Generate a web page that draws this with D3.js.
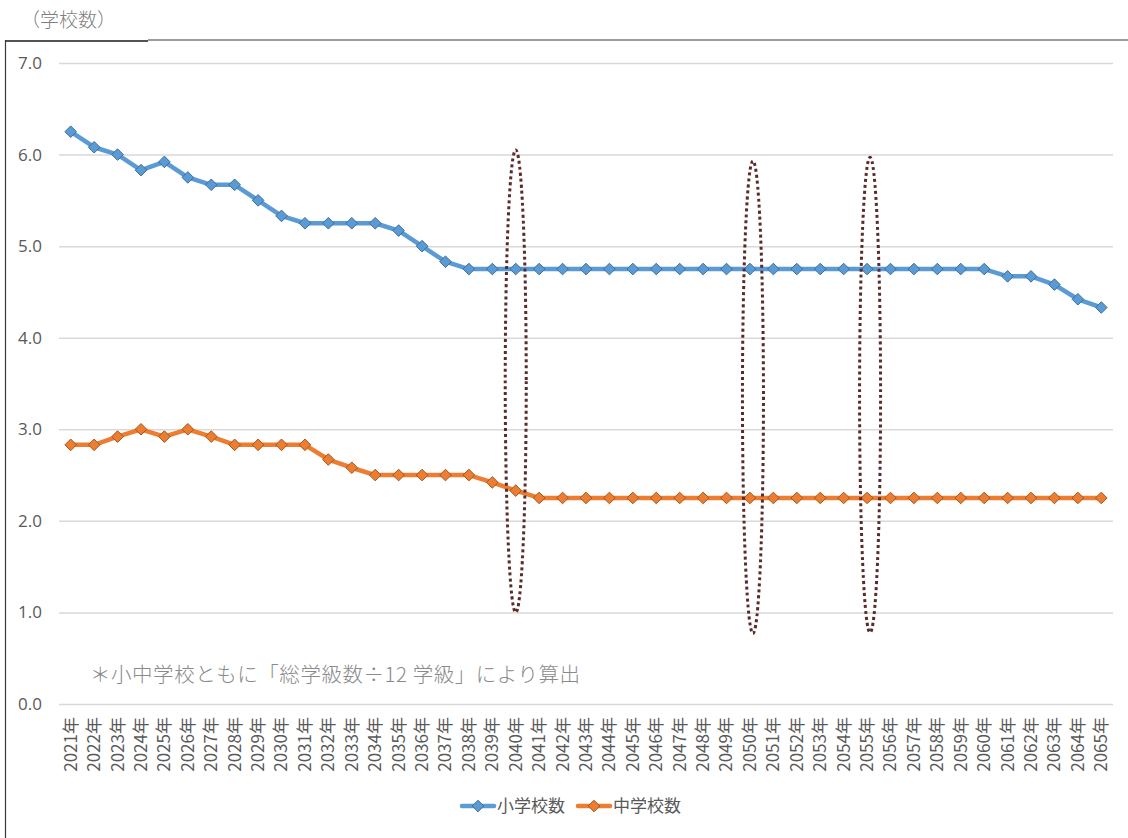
<!DOCTYPE html>
<html lang="ja">
<head>
<meta charset="utf-8">
<script src="https://cdn.jsdelivr.net/npm/d3@7"></script>
<style>
  html, body { margin: 0; padding: 0; background: #fff; }
  svg { display: block; }
</style>
</head>
<body>
<script>
// Projected number of schools (class count ÷ 12), 2021–2065
const years = d3.range(2021, 2066).map(y => y + "年");

const elementary = [
  6.25, 6.08, 6.00, 5.83, 5.92, 5.75, 5.67, 5.67, 5.50, 5.33,
  5.25, 5.25, 5.25, 5.25, 5.17, 5.00, 4.83, 4.75, 4.75, 4.75,
  4.75, 4.75, 4.75, 4.75, 4.75, 4.75, 4.75, 4.75, 4.75, 4.75,
  4.75, 4.75, 4.75, 4.75, 4.75, 4.75, 4.75, 4.75, 4.75, 4.75,
  4.67, 4.67, 4.58, 4.42, 4.33
];

const juniorHigh = [
  2.83, 2.83, 2.92, 3.00, 2.92, 3.00, 2.92, 2.83, 2.83, 2.83,
  2.83, 2.67, 2.58, 2.50, 2.50, 2.50, 2.50, 2.50, 2.42, 2.33,
  2.25, 2.25, 2.25, 2.25, 2.25, 2.25, 2.25, 2.25, 2.25, 2.25,
  2.25, 2.25, 2.25, 2.25, 2.25, 2.25, 2.25, 2.25, 2.25, 2.25,
  2.25, 2.25, 2.25, 2.25, 2.25
];

const seriesNames = ["小学校数", "中学校数"];
const yTicks = [0, 1, 2, 3, 4, 5, 6, 7];

// Highlighted years (dotted ellipses): year, upper and lower value bounds
const highlightYears = ["2040年", "2050年", "2055年"];
const highlightTop = [6.05, 5.93, 5.97];
const highlightBottom = [1.0, 0.77, 0.78];

const title = "（学校数）";
const note = "＊小中学校ともに「総学級数÷12 学級」により算出";

const W = 1128, H = 838;
const svg = d3.select("body").append("svg").attr("width", W).attr("height", H);

const x = d3.scaleBand().domain(years).range([59, 1113]);
const y = d3.scaleLinear().domain([0, 7]).range([704, 63]);
const cx = d => x(d) + x.bandwidth() / 2;

// outer frame
svg.append("line").attr("x1", 5).attr("x2", 148).attr("y1", 41).attr("y2", 41)
  .attr("stroke", "#1a1a1a").attr("stroke-width", 1.6);
svg.append("line").attr("x1", 148).attr("x2", W).attr("y1", 40).attr("y2", 40)
  .attr("stroke", "#3a3a3a").attr("stroke-width", 1.2);
svg.append("line").attr("x1", 5.5).attr("x2", 5.5).attr("y1", 40).attr("y2", H)
  .attr("stroke", "#3a3a3a").attr("stroke-width", 1.2);

svg.append("text").attr("x", 21).attr("y", 27).text(title)
  .attr("font-family", "'Noto Sans CJK JP', sans-serif")
  .attr("font-weight", 300)
  .attr("font-size", 19).attr("fill", "#7f7f7f");

// value axis with horizontal gridlines
const yAxis = svg.append("g")
  .attr("transform", "translate(59,0)")
  .call(d3.axisLeft(y).tickValues(yTicks).tickFormat(d3.format(".1f"))
    .tickSize(-(1113 - 59)).tickPadding(17));
yAxis.select(".domain").remove();
yAxis.selectAll(".tick line").attr("stroke", "#d9d9d9").attr("stroke-width", 1.5);
yAxis.selectAll(".tick text")
  .attr("font-family", "'Open Sans', 'Noto Sans', sans-serif")
  .attr("font-size", 17).attr("fill", "#595959");

// category axis, labels rotated
const xAxis = svg.append("g")
  .attr("transform", `translate(0,${y(0)})`)
  .call(d3.axisBottom(x).tickSize(0).tickPadding(0));
xAxis.select(".domain").remove();
xAxis.selectAll(".tick text")
  .attr("transform", "rotate(-90)")
  .attr("text-anchor", "end")
  .attr("dy", "0.35em")
  .attr("x", -13)
  .attr("y", 0)
  .attr("font-family", "'Noto Sans CJK JP', sans-serif")
  .attr("font-size", 17).attr("fill", "#595959");

const series = [
  { name: seriesNames[0], values: elementary, color: "#5b9bd5", edge: "#3e6e99" },
  { name: seriesNames[1], values: juniorHigh, color: "#ed7d31", edge: "#a2571f" }
];

const line = d3.line().x((d, i) => cx(years[i])).y(d => y(d));
// square diamond marker
const diamond = (() => {
  const p = d3.path(), r = 5.8;
  p.moveTo(0, -r); p.lineTo(r, 0); p.lineTo(0, r); p.lineTo(-r, 0); p.closePath();
  return p.toString();
})();

series.forEach(s => {
  svg.append("path").datum(s.values)
    .attr("d", line).attr("fill", "none")
    .attr("stroke", s.color).attr("stroke-width", 4.5)
    .attr("stroke-linejoin", "round");
  svg.append("g").selectAll("path").data(s.values).join("path")
    .attr("d", diamond)
    .attr("transform", (d, i) => `translate(${cx(years[i])},${y(d)})`)
    .attr("fill", s.color).attr("stroke", s.edge).attr("stroke-width", 1);
});

// dotted ellipses around highlighted years
highlightYears.forEach((yr, i) => {
  const top = y(highlightTop[i]), bottom = y(highlightBottom[i]);
  svg.append("ellipse")
    .attr("cx", cx(yr) + (i === 0 ? 0 : 3))
    .attr("cy", (top + bottom) / 2)
    .attr("rx", 10.5)
    .attr("ry", (bottom - top) / 2)
    .attr("fill", "none")
    .attr("stroke", "#5b2a2a")
    .attr("stroke-width", 3)
    .attr("stroke-dasharray", "3,3");
});

svg.append("text").attr("x", 90).attr("y", 682).text(note)
  .attr("font-family", "'Noto Sans CJK JP', serif")
  .attr("font-weight", 300)
  .attr("textLength", 490)
  .attr("font-size", 20.5).attr("fill", "#8a8a8a");

// legend
const legend = svg.append("g");
const legendX = [462, 578];
series.forEach((s, i) => {
  const g = legend.append("g").attr("transform", `translate(${legendX[i]},806)`);
  g.append("line").attr("x1", 0).attr("x2", 32).attr("y1", 0).attr("y2", 0)
    .attr("stroke", s.color).attr("stroke-width", 4.5).attr("stroke-linecap", "round");
  g.append("path").attr("d", diamond).attr("transform", "translate(16,0)")
    .attr("fill", s.color).attr("stroke", s.edge).attr("stroke-width", 1);
  g.append("text").attr("x", 35).attr("y", 0).attr("dy", "0.35em").text(s.name)
    .attr("font-family", "'Noto Sans CJK JP', sans-serif")
    .attr("font-size", 17).attr("fill", "#595959");
});
</script>
</body>
</html>
